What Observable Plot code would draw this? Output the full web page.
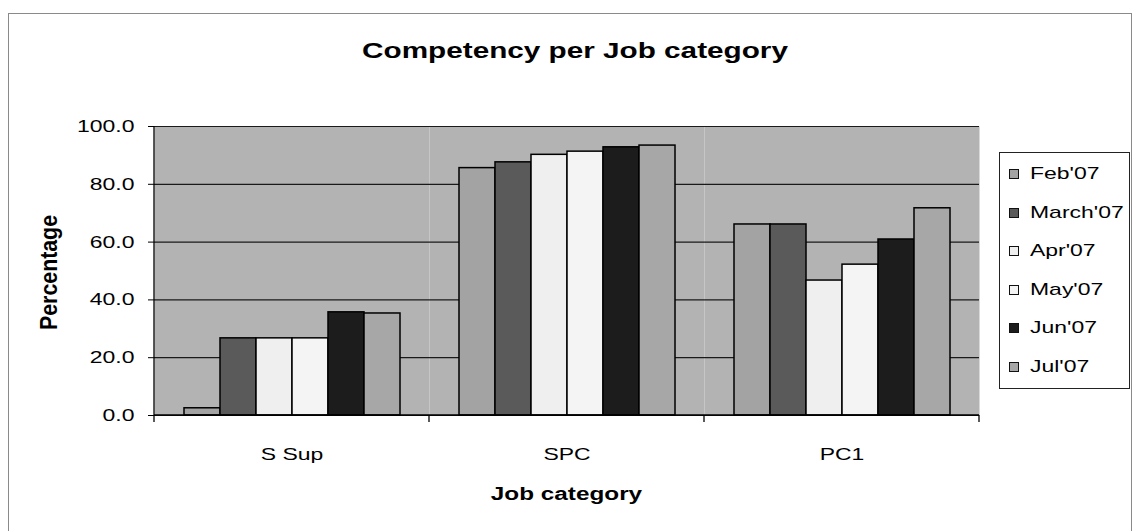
<!DOCTYPE html>
<html>
<head>
<meta charset="utf-8">
<script src="https://cdn.jsdelivr.net/npm/d3@7"></script>
<script src="https://cdn.jsdelivr.net/npm/@observablehq/plot@0.6"></script>
<style>
  body { margin: 0; background: #fff; font-family: "Liberation Sans", Arial, sans-serif; }
  #chart { position: relative; width: 1132px; height: 531px; overflow: hidden; background: #fff; }
  #border { position: absolute; left: 8px; top: 13px; width: 1122px; height: 620px; border: 1px solid #8a8a8a; }
  #title { position: absolute; left: 9px; top: 40px; width: 1132px; margin: 0; text-align: center;
           font-weight: bold; font-size: 22px; line-height: 22px; transform: scaleX(1.35); }
  #plot { position: absolute; left: 0; top: 0; }
  #legend { position: absolute; left: 999px; top: 152px; width: 131px; height: 237px;
            border: 1px solid #222; background: #fff; box-sizing: border-box; }
  .item { position: absolute; left: 9px; height: 20px; display: flex; align-items: center; }
  .sw { width: 10px; height: 10px; border: 1px solid #111; box-sizing: border-box; flex: none; }
  .lab { display: inline-block; margin-left: 11px; font-size: 17px; line-height: 20px;
         white-space: nowrap; transform: scaleX(1.35); transform-origin: left center; }
</style>
</head>
<body>
<div id="chart">
  <div id="border"></div>
  <div id="title">Competency per Job category</div>
  <div id="plot"></div>
  <div id="legend"></div>
</div>
<script>
// Job categories and survey months
const categories = ["S Sup", "SPC", "PC1"];
const months = ["Feb'07", "March'07", "Apr'07", "May'07", "Jun'07", "Jul'07"];

// Competency percentage per month, one array per job category
const sSup = [2.5, 26.7, 26.7, 26.7, 35.7, 35.3];
const spc  = [85.6, 87.6, 90.2, 91.3, 92.8, 93.4];
const pc1  = [66.1, 66.1, 46.7, 52.2, 60.9, 71.7];

// Y axis ticks and their labels
const yTicks = [0, 20, 40, 60, 80, 100];
const yTickLabels = ["0.0", "20.0", "40.0", "60.0", "80.0", "100.0"];

// Grey shades for the months and the plot area
const monthColors = ["#a3a3a3", "#5a5a5a", "#efefef", "#f4f4f4", "#1c1c1c", "#a7a7a7"];
const plotBg = "#b3b3b3";

const seriesByCategory = [sSup, spc, pc1];
const data = categories.flatMap((c, i) =>
  seriesByCategory[i].map((v, j) => ({category: c, month: months[j], value: v}))
);

const plot = Plot.plot({
  width: 1132,
  height: 531,
  marginLeft: 153,
  marginRight: 152,
  marginTop: 126,
  marginBottom: 116,
  style: {fontFamily: "Liberation Sans, Arial, sans-serif", fontSize: "17px", color: "#000", background: "transparent", overflow: "visible"},
  fx: {domain: categories, padding: 0, tickSize: 0, tickPadding: 32, label: null},
  x: {domain: months, paddingInner: 0, paddingOuter: 0.78, axis: null},
  y: {domain: [0, 100], ticks: yTicks, tickFormat: d => yTickLabels[yTicks.indexOf(d)], tickSize: 6, tickPadding: 14, label: null},
  color: {domain: months, range: monthColors},
  marks: [
    Plot.frame({fill: plotBg, stroke: "none"}),
    Plot.ruleY(yTicks, {stroke: "#1a1a1a", strokeWidth: 1.2}),
    Plot.barY(data, {fx: "category", x: "month", y: "value", fill: "month", stroke: "#000", strokeWidth: 1.5})
  ]
});
document.getElementById("plot").append(plot);

const svg = d3.select(plot);

// Widen the label glyphs horizontally
function stretch(node, k) {
  const len = node.getComputedTextLength();
  node.setAttribute("textLength", len * k);
  node.setAttribute("lengthAdjust", "spacingAndGlyphs");
}
svg.selectAll('g[aria-label$="tick label"] text').each(function () { stretch(this, 1.35); });

// Axis lines and category boundary ticks, placed from the plot's scales
const fx = plot.scale("fx");
const y = plot.scale("y");
const bounds = categories.map(c => fx.apply(c));
bounds.push(fx.apply(categories[categories.length - 1]) + fx.bandwidth);
const y0 = y.apply(0), y1 = y.apply(100);
const g = svg.append("g").attr("stroke", "#000").attr("stroke-width", 1.3);
g.append("line").attr("x1", bounds[0]).attr("x2", bounds[0]).attr("y1", y1).attr("y2", y0);
g.append("line").attr("x1", bounds[0]).attr("x2", bounds[bounds.length - 1]).attr("y1", y0).attr("y2", y0);
bounds.forEach(b => g.append("line").attr("x1", b).attr("x2", b).attr("y1", y0).attr("y2", y0 + 7));

// Axis titles
const xTitle = svg.append("text")
  .attr("x", (bounds[0] + bounds[bounds.length - 1]) / 2)
  .attr("y", 500)
  .attr("text-anchor", "middle")
  .attr("font-weight", "bold")
  .attr("font-size", 18)
  .text("Job category");
stretch(xTitle.node(), 1.35);

const yTitle = svg.append("text")
  .attr("transform", `translate(57,${(y0 + y1) / 2 + 2}) scale(1.3,1) rotate(-90)`)
  .attr("text-anchor", "middle")
  .attr("font-weight", "bold")
  .attr("font-size", 18)
  .text("Percentage");
yTitle.attr("textLength", 115).attr("lengthAdjust", "spacingAndGlyphs");

// Legend built from the plot's colour scale
const color = plot.scale("color");
const legend = d3.select("#legend");
months.forEach((m, i) => {
  const item = legend.append("div").attr("class", "item").style("top", `${11.3 + i * 38.5}px`);
  item.append("div").attr("class", "sw").style("background", color.apply(m));
  item.append("span").attr("class", "lab").text(m);
});
</script>
</body>
</html>
